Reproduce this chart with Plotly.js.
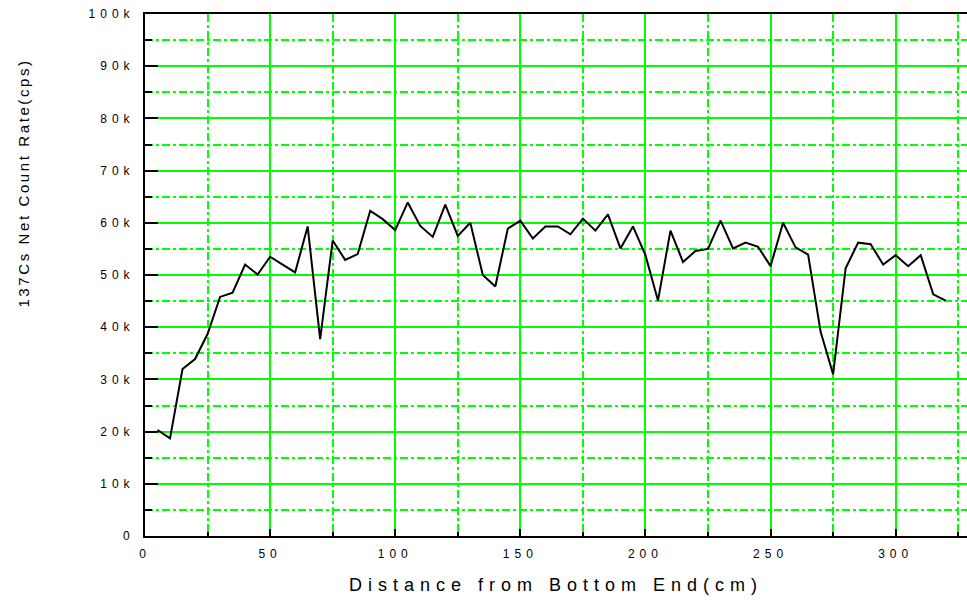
<!DOCTYPE html>
<html>
<head>
<meta charset="utf-8">
<script src="https://cdn.plot.ly/plotly-3.0.1.min.js"></script>
<style>
  html, body { margin: 0; padding: 0; background: #fff; }
  #chart { width: 967px; height: 600px; }
  .xtick text, .ytick text { letter-spacing: 5px; }
  .g-xtitle text { letter-spacing: 6px; }
  .annotation-text { letter-spacing: 2.6px; }
</style>
</head>
<body>
<div id="chart"></div>
<script>
const distanceCm = [5, 10, 15, 20, 25, 30, 35, 40, 45, 50, 55, 60, 65, 70, 75, 80,
  85, 90, 95, 100, 105, 110, 115, 120, 125, 130, 135, 140, 145, 150, 155, 160,
  165, 170, 175, 180, 185, 190, 195, 200, 205, 210, 215, 220, 225, 230, 235, 240,
  245, 250, 255, 260, 265, 270, 275, 280, 285, 290, 295, 300, 305, 310, 315, 320];
const countRate = [20300, 18700, 32000, 33900, 38700, 45800, 46600, 52000, 50100, 53500,
  52000, 50500, 59300, 37700, 56600, 52900, 54000, 62300, 60700, 58600,
  63900, 59400, 57300, 63500, 57500, 60000, 50000, 47800, 58900, 60400,
  57000, 59300, 59300, 57800, 60800, 58500, 61600, 55100, 59300, 53800,
  45100, 58500, 52500, 54600, 55000, 60400, 55100, 56200, 55400, 51700,
  60000, 55300, 53900, 39100, 31000, 51300, 56200, 55900, 52000, 53800,
  51700, 53800, 46300, 45100];
const xTitle = "Distance from Bottom End(cm)";
const yTitle = "137Cs Net Count Rate(cps)";

const green = "#00ff00";
const font = "Liberation Sans, Arial, sans-serif";

const trace = {
  x: distanceCm,
  y: countRate,
  type: "scatter",
  mode: "lines",
  line: { color: "#000000", width: 2 },
  hoverinfo: "skip"
};

const layout = {
  width: 967,
  height: 600,
  margin: { l: 144.5, r: 0, t: 14, b: 64 },
  paper_bgcolor: "#ffffff",
  plot_bgcolor: "#ffffff",
  showlegend: false,
  font: { family: font, color: "#000000", size: 12 },
  xaxis: {
    range: [0, 328.5],
    tick0: 0,
    dtick: 50,
    ticks: "inside",
    ticklen: 7,
    tickwidth: 2,
    tickcolor: "#000000",
    showline: true,
    linecolor: "#000000",
    linewidth: 2,
    mirror: true,
    zeroline: false,
    showgrid: true,
    gridcolor: green,
    gridwidth: 2,
    tickfont: { family: font, size: 12, color: "#000000" },
    ticklabelstandoff: 6,
    minor: {
      dtick: 25,
      ticks: "inside",
      ticklen: 4,
      tickwidth: 2,
      tickcolor: "#000000",
      showgrid: true,
      gridcolor: green,
      gridwidth: 2,
      griddash: "8px,3px,3px,3px"
    },
    title: { text: xTitle, font: { family: font, size: 18, color: "#000000" }, standoff: 18 }
  },
  yaxis: {
    range: [0, 100000],
    tick0: 0,
    dtick: 10000,
    tickformat: "~s",
    ticks: "inside",
    ticklen: 13,
    tickwidth: 2,
    tickcolor: "#000000",
    showline: true,
    linecolor: "#000000",
    linewidth: 2,
    zeroline: false,
    showgrid: true,
    gridcolor: green,
    gridwidth: 2,
    tickfont: { family: font, size: 12, color: "#000000" },
    ticklabelstandoff: 6,
    minor: {
      dtick: 5000,
      ticks: "inside",
      ticklen: 7,
      tickwidth: 2,
      tickcolor: "#000000",
      showgrid: true,
      gridcolor: green,
      gridwidth: 2,
      griddash: "8px,3px,3px,3px"
    }
  },
  annotations: [{
    text: yTitle,
    xref: "paper", yref: "paper",
    x: -144.5 / 822.5 + 23 / 822.5, y: (536 - 183) / 522,
    xanchor: "center", yanchor: "middle",
    textangle: -90,
    showarrow: false,
    font: { family: font, size: 15, color: "#000000" }
  }]
};

Plotly.newPlot("chart", [trace], layout, { displayModeBar: false, staticPlot: true });
</script>
</body>
</html>
